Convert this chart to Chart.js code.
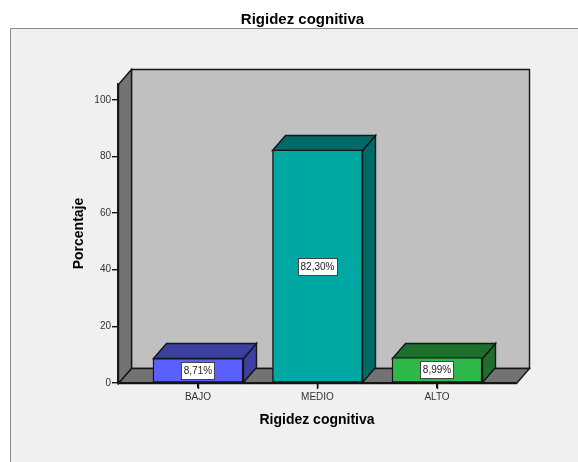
<!DOCTYPE html>
<html>
<head>
<meta charset="utf-8">
<style>
  html, body { margin: 0; padding: 0; background: #fff; }
  canvas { display: block; }
</style>
<script src="https://cdn.jsdelivr.net/npm/chart.js@4"></script>
</head>
<body>
<canvas id="myChart" width="578" height="462"></canvas>
<script>
const categories = ['BAJO', 'MEDIO', 'ALTO'];
const percentages = [8.71, 82.30, 8.99];
const yTicks = [0, 20, 40, 60, 80, 100];
const chartTitle = 'Rigidez cognitiva';
const xTitle = 'Rigidez cognitiva';
const yTitle = 'Porcentaje';

const frontColors = ['#5a5fff', '#00a8a4', '#2fb84a'];
const topColors = ['#3b3f9f', '#006a66', '#1f6f2c'];

// depth of the fake 3D box
const depthX = 13;
const depthY = 15;
const lineColor = '#151515';
const lineWidth = 1.4;

function poly(ctx, pts, fill) {
    ctx.beginPath();
    pts.forEach((p, i) => i ? ctx.lineTo(p[0], p[1]) : ctx.moveTo(p[0], p[1]));
    ctx.closePath();
    ctx.fillStyle = fill;
    ctx.fill();
    ctx.strokeStyle = lineColor;
    ctx.lineWidth = lineWidth;
    ctx.stroke();
}

// panel, walls and floor
const backdrop = {
    id: 'backdrop',
    beforeDraw(chart) {
        const c = chart.ctx;
        const { left, right, top, bottom } = chart.chartArea;
        c.save();
        c.fillStyle = '#f0f0f0';
        c.fillRect(11, 29, 567, 433);
        c.strokeStyle = '#8a8a8a';
        c.lineWidth = 1;
        c.beginPath();
        c.moveTo(10.5, 462);
        c.lineTo(10.5, 28.5);
        c.lineTo(578, 28.5);
        c.stroke();

        c.fillStyle = '#000';
        c.font = 'bold 15px "Liberation Sans"';
        c.textAlign = 'center';
        c.textBaseline = 'middle';
        c.fillText(chartTitle, 302.5, 20);

        const l = left + 0.5, r = right + 0.5, t = top + 0.5, b = bottom + 0.5;
        poly(c, [[l + depthX, t - depthY], [r + depthX, t - depthY], [r + depthX, b - depthY], [l + depthX, b - depthY]], '#c0c0c0');
        poly(c, [[l, t], [l + depthX, t - depthY], [l + depthX, b - depthY], [l, b]], '#737373');
        poly(c, [[l, b], [l + depthX, b - depthY], [r + depthX, b - depthY], [r, b]], '#737373');
        c.restore();
    },
    // sides and tops of the bars, behind the real bar fronts
    beforeDatasetsDraw(chart) {
        const c = chart.ctx;
        c.save();
        chart.getDatasetMeta(0).data.forEach((bar, i) => {
            const x0 = Math.round(bar.x - bar.width / 2) + 0.5;
            const x1 = Math.round(bar.x + bar.width / 2) + 0.5;
            const y0 = Math.round(bar.y) + 0.5;
            const y1 = Math.round(bar.base) + 0.5;
            poly(c, [[x1, y0], [x1 + depthX, y0 - depthY], [x1 + depthX, y1 - depthY], [x1, y1]], topColors[i]);
            poly(c, [[x0, y0], [x0 + depthX, y0 - depthY], [x1 + depthX, y0 - depthY], [x1, y0]], topColors[i]);
        });
        c.restore();
    },
    afterDatasetsDraw(chart) {
        const c = chart.ctx;
        const xScale = chart.scales.x;
        c.save();

        // tick marks under the categories
        c.strokeStyle = '#111';
        c.lineWidth = lineWidth;
        categories.forEach((name, i) => {
            const px = Math.round(xScale.getPixelForValue(i)) + 0.5;
            c.beginPath();
            c.moveTo(px, xScale.top);
            c.lineTo(px, xScale.top + 6);
            c.stroke();
        });

        c.font = '10px "Liberation Sans"';
        c.textAlign = 'center';
        c.textBaseline = 'middle';
        chart.getDatasetMeta(0).data.forEach((bar, i) => {
            const label = percentages[i].toFixed(2).replace('.', ',') + '%';
            const w = Math.round(c.measureText(label).width) + 5, h = 17;
            const x = Math.round(bar.x - w / 2) + 0.5;
            const y = Math.round((bar.y + bar.base) / 2 - h / 2) + 0.5;
            c.fillStyle = '#fff';
            c.fillRect(x, y, w, h);
            c.strokeStyle = '#444';
            c.lineWidth = 1;
            c.strokeRect(x, y, w, h);
            c.fillStyle = '#222';
            c.fillText(label, bar.x, y + h / 2 + 0.5);
        });
        c.restore();
    }
};

new Chart(document.getElementById('myChart'), {
    type: 'bar',
    data: {
        datasets: [{
            data: categories.map((c, i) => ({ x: i, y: percentages[i] })),
            backgroundColor: frontColors,
            borderColor: lineColor,
            borderWidth: lineWidth,
            borderSkipped: false,
            barThickness: 90
        }]
    },
    options: {
        responsive: false,
        animation: false,
        layout: { padding: { top: 84, left: 71, right: 62, bottom: 33 } },
        plugins: { legend: { display: false }, tooltip: { enabled: false } },
        scales: {
            x: {
                type: 'linear',
                offset: false,
                min: -0.669,
                max: 2.661,
                afterBuildTicks(scale) { scale.ticks = categories.map((c, i) => ({ value: i })); },
                afterFit(scale) { scale.height = 46; },
                grid: { drawOnChartArea: false, offset: false, tickLength: 5, color: '#111', lineWidth: 1.4 },
                border: { color: lineColor, width: lineWidth },
                ticks: {
                    autoSkip: false, maxRotation: 0, padding: 3, color: '#333',
                    font: { family: 'Liberation Sans', size: 10 },
                    callback: v => categories[v]
                },
                title: {
                    display: true, text: xTitle, color: '#000',
                    font: { family: 'Liberation Sans', size: 14, weight: 'bold' },
                    padding: { top: 8, bottom: 0 }
                }
            },
            y: {
                min: 0,
                max: 105.6,
                afterBuildTicks(scale) { scale.ticks = yTicks.map(v => ({ value: v })); },
                afterFit(scale) { scale.width = 47; },
                grid: { drawOnChartArea: false, tickLength: 6, color: '#111', lineWidth: 1.4 },
                border: { color: lineColor, width: lineWidth },
                ticks: {
                    padding: 1, color: '#333',
                    font: { family: 'Liberation Sans', size: 10 }
                },
                title: {
                    display: true, text: yTitle, color: '#000',
                    font: { family: 'Liberation Sans', size: 14, weight: 'bold' },
                    padding: { top: 0, bottom: 0 }
                }
            }
        }
    },
    plugins: [backdrop]
});
</script>
</body>
</html>
